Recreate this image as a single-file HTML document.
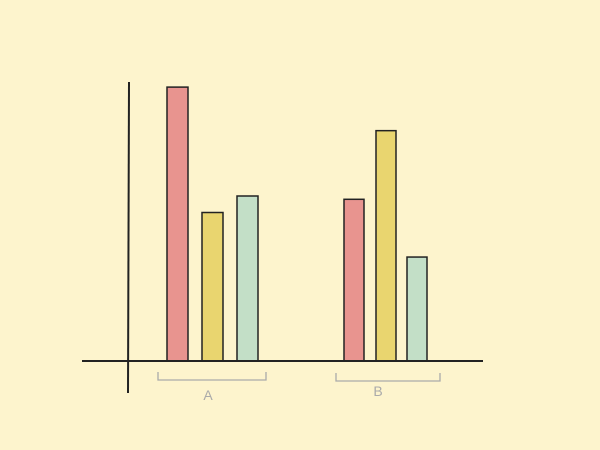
<!DOCTYPE html>
<html><head><meta charset="utf-8"><style>
html,body{margin:0;padding:0;background:#fdf4cd;}
svg{display:block;}
</style></head><body>
<svg width="600" height="450" viewBox="0 0 600 450">
<rect x="0" y="0" width="600" height="450" fill="#fdf4cd"/>
<g id="bars"></g>
<line x1="129" y1="82" x2="128" y2="393" stroke="#222" stroke-width="2"/>
<line x1="82" y1="361" x2="483" y2="361" stroke="#222" stroke-width="2"/>
<g id="cats"></g>
</svg>
<script>
const categories = ["A", "B"];
const seriesRed = [8.3, 4.9];
const seriesYellow = [4.5, 6.98];
const seriesGreen = [5.0, 3.15];
const colors = ["#e8948f", "#e9d56f", "#c3dfc7"];
const NS = "http://www.w3.org/2000/svg";
const base = 361, k = 33;
function y(v){ return base - v * k; }
const groupStart = [167, 344];
const barOffsets = [[0, 35, 70], [0, 32, 63]];
const barW = [21, 20];
const bracket = [[158, 266, 380, 400, 208], [336, 440, 381, 396, 378]];
const bars = document.getElementById("bars");
const cats = document.getElementById("cats");
const series = [seriesRed, seriesYellow, seriesGreen];
const sNames = ["red", "yellow", "green"];
categories.forEach((c, ci) => {
  series.forEach((s, si) => {
    const r = document.createElementNS(NS, "rect");
    r.setAttribute("x", groupStart[ci] + barOffsets[ci][si]);
    r.setAttribute("y", y(s[ci]));
    r.setAttribute("width", barW[ci]);
    r.setAttribute("height", base - y(s[ci]));
    r.setAttribute("fill", colors[si]);
    r.setAttribute("stroke", "#222");
    r.setAttribute("stroke-width", "1.5");
    
    
    bars.appendChild(r);
  });
  const b = bracket[ci];
  const p = document.createElementNS(NS, "path");
  p.setAttribute("d", `M${b[0]} ${b[2]-8} L${b[0]} ${b[2]} L${b[1]} ${b[2]} L${b[1]} ${b[2]-8}`);
  p.setAttribute("fill", "none");
  p.setAttribute("stroke", "#aaa");
  p.setAttribute("stroke-width", "1.3");
  
  
  cats.appendChild(p);
  const t = document.createElementNS(NS, "text");
  t.setAttribute("x", b[4]);
  t.setAttribute("y", b[3]);
  t.setAttribute("text-anchor", "middle");
  t.setAttribute("font-family", "Liberation Sans, sans-serif");
  t.setAttribute("font-size", "14");
  t.setAttribute("fill", "#aaa");
  t.textContent = c;
  
  
  cats.appendChild(t);
});
</script>
</body></html>
